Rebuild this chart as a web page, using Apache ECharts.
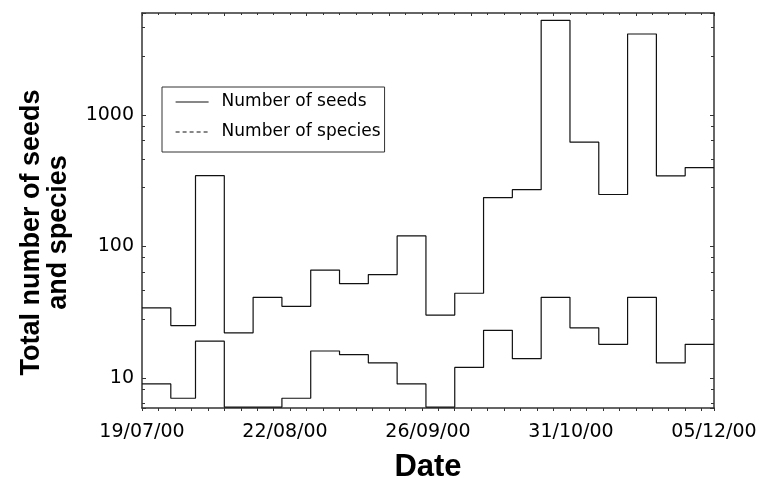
<!DOCTYPE html>
<html>
<head>
<meta charset="utf-8">
<script src="https://cdn.jsdelivr.net/npm/echarts@6/dist/echarts.min.js"></script>
<style>
  html, body { margin: 0; padding: 0; background: #fff; }
  #chart { width: 760px; height: 482px; }
</style>
</head>
<body>
<div id="chart"></div>
<script>
// x axis tick labels, evenly spread from first to last day
const xTickLabels = ['19/07/00', '22/08/00', '26/09/00', '31/10/00', '05/12/00']
const xSpanDays = 139
// step edges, in days since 19/07/00
const weekEdges = [0, 7, 13, 20, 27, 34, 41, 48, 55, 62, 69, 76, 83, 90, 97, 104, 111, 118, 125, 132, 139]
// one value per step
const seeds = [34, 25, 345, 22, 41, 35, 66, 52, 61, 120, 30, 44, 235, 270, 5230, 620, 248, 4120, 344, 397]
const species = [9, 7, 19, 6, 6, 7, 16, 15, 13, 9, 6, 12, 23, 14, 41, 24, 18, 41, 13, 18]
const yTickLabels = [10, 100, 1000]

const labelDays = xTickLabels.map((t, i) => i * xSpanDays / (xTickLabels.length - 1))

function stepData(values) {
  // repeat the last value at the closing edge so the last step is drawn
  return weekEdges.map((d, i) => [d, values[Math.min(i, values.length - 1)]])
}

const tickFont = { fontFamily: 'DejaVu Sans', fontSize: 19, color: '#000' }
const titleFont = { fontFamily: 'Liberation Sans', fontWeight: 'bold', fontSize: 27, color: '#000' }
const frameLine = { show: true, onZero: false, lineStyle: { color: '#333', width: 1.5 } }

const chart = echarts.init(document.getElementById('chart'), null, { renderer: 'canvas' })

chart.setOption({
  animation: false,
  backgroundColor: '#fff',
  grid: { left: 142, right: 46, top: 13, bottom: 74, outerBoundsMode: 'none', containLabel: false },
  legend: {
    show: true,
    left: 162,
    top: 87,
    orient: 'vertical',
    backgroundColor: '#fff',
    borderColor: '#333',
    borderWidth: 1,
    borderRadius: 0,
    padding: [5, 4, 10, 13],
    itemGap: 10,
    itemWidth: 33,
    itemHeight: 14,
    itemStyle: { opacity: 0 },
    textStyle: { fontFamily: 'DejaVu Sans', fontSize: 17, color: '#000', padding: [0, 0, 0, 8], lineHeight: 20 },
    data: [
      { name: 'Number of seeds', lineStyle: { color: '#111', width: 1.2 } },
      { name: 'Number of species', lineStyle: { color: '#111', width: 1.2, type: [4, 3] } }
    ]
  },
  xAxis: [{
    type: 'value',
    min: 0,
    max: xSpanDays,
    interval: 20,
    name: 'Date',
    nameLocation: 'middle',
    nameGap: 44,
    nameTextStyle: { ...titleFont, fontSize: 31 },
    axisLine: frameLine,
    splitLine: { show: false },
    axisTick: { show: true, inside: false, length: 3, lineStyle: { color: '#333' } },
    minorTick: { show: true, splitNumber: 5, length: 3, lineStyle: { color: '#333' } },
    axisLabel: {
      ...tickFont,
      margin: 15,
      customValues: labelDays,
      formatter: function (v) {
        const i = labelDays.findIndex(d => Math.abs(d - v) < 0.01)
        return i >= 0 ? xTickLabels[i] : ''
      }
    }
  }, {
    type: 'value',
    position: 'top',
    min: 0,
    max: xSpanDays,
    interval: 20,
    axisLine: frameLine,
    splitLine: { show: false },
    axisTick: { show: true, inside: true, length: 3, lineStyle: { color: '#333' } },
    minorTick: { show: true, splitNumber: 5, length: 2, lineStyle: { color: '#333' } },
    axisLabel: { show: false }
  }],
  yAxis: [{
    type: 'log',
    logBase: 10,
    min: 5.9,
    max: 5950,
    name: 'Total number of seeds\nand species',
    nameLocation: 'middle',
    nameGap: 70,
    nameTextStyle: { ...titleFont, lineHeight: 27, padding: [0, 44, 0, 0] },
    axisLine: frameLine,
    splitLine: { show: false },
    axisTick: { show: true, inside: true, length: 4, lineStyle: { color: '#333' } },
    minorTick: { show: true, splitNumber: 5, length: 3, lineStyle: { color: '#333' } },
    axisLabel: {
      ...tickFont,
      margin: 8,
      showMinLabel: false,
      showMaxLabel: false,
      formatter: function (v) {
        const hit = yTickLabels.find(t => Math.abs(t - v) / t < 0.001)
        return hit ? String(hit) : ''
      }
    }
  }, {
    type: 'log',
    logBase: 10,
    position: 'right',
    min: 5.9,
    max: 5950,
    axisLine: frameLine,
    splitLine: { show: false },
    axisTick: { show: true, inside: true, length: 4, lineStyle: { color: '#333' } },
    minorTick: { show: true, splitNumber: 5, length: 3, lineStyle: { color: '#333' } },
    axisLabel: { show: false }
  }],
  series: [{
    name: 'Number of seeds',
    type: 'line',
    step: 'end',
    symbol: 'none',
    color: '#111',
    lineStyle: { color: '#111', width: 1.2 },
    data: stepData(seeds)
  }, {
    name: 'Number of species',
    type: 'line',
    step: 'end',
    symbol: 'none',
    color: '#111',
    lineStyle: { color: '#111', width: 1.2 },
    data: stepData(species)
  }]
})
</script>
</body>
</html>
